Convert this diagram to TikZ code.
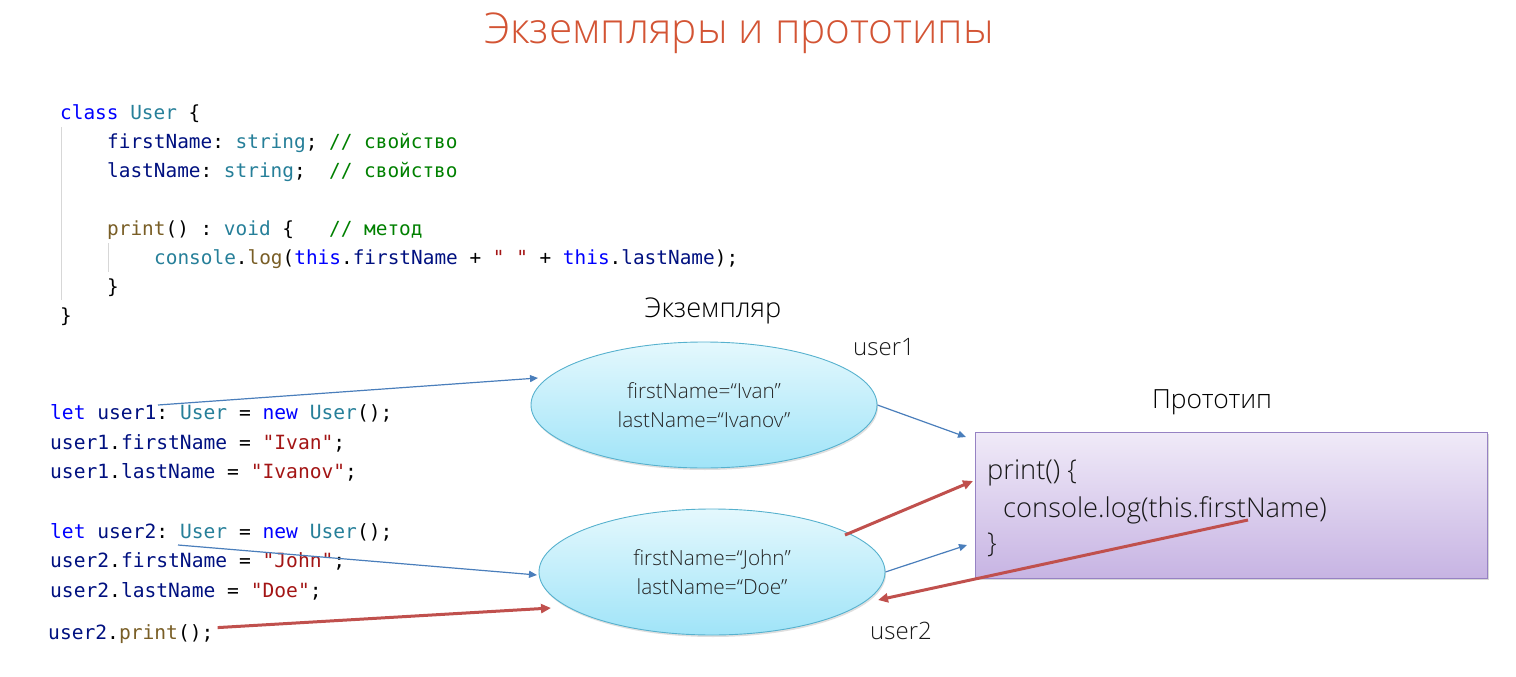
\documentclass[tikz,border=0pt]{standalone}
\usepackage{fontspec}
\setmainfont{Open Sans}
\newfontfamily\thinfont{Open Sans Light}
\newfontfamily\codefont{DejaVu Sans Mono}
\usetikzlibrary{arrows.meta,shadows,shapes.geometric}
\frenchspacing

% code colours
\definecolor{kwblue}{RGB}{0,0,255}
\definecolor{tyteal}{RGB}{38,127,153}
\definecolor{vrnavy}{RGB}{0,16,128}
\definecolor{strred}{RGB}{163,21,21}
\definecolor{cmgreen}{RGB}{0,128,0}
\definecolor{fnbrown}{RGB}{121,94,38}
% diagram colours
\definecolor{titleorange}{RGB}{211,84,52}
\definecolor{linkblue}{RGB}{74,126,187}
\definecolor{callred}{RGB}{192,80,77}
\definecolor{guidegray}{RGB}{215,215,215}
\definecolor{ellborder}{RGB}{86,177,206}
\definecolor{elltop}{RGB}{228,248,253}
\definecolor{ellbottom}{RGB}{160,228,248}
\definecolor{boxborder}{RGB}{150,130,195}
\definecolor{boxtop}{RGB}{240,234,248}
\definecolor{boxbottom}{RGB}{199,180,227}

\newcommand{\cKw}[1]{\textcolor{kwblue}{#1}}
\newcommand{\cTy}[1]{\textcolor{tyteal}{#1}}
\newcommand{\cVr}[1]{\textcolor{vrnavy}{#1}}
\newcommand{\cSt}[1]{\textcolor{strred}{#1}}
\newcommand{\cCm}[1]{\textcolor{cmgreen}{#1}}
\newcommand{\cFn}[1]{\textcolor{fnbrown}{#1}}

\tikzset{
  codetop/.style={anchor=base west, inner sep=0pt, font=\codefont\fontsize{19.4}{22}\selectfont},
  codebot/.style={anchor=base west, inner sep=0pt, font=\codefont\fontsize{19.6}{22}\selectfont},
  label/.style={inner sep=0pt, font=\thinfont\fontsize{24}{28}\selectfont\color{black!90}},
  instance/.style={ellipse, draw=ellborder, line width=0.9pt,
    top color=elltop, bottom color=ellbottom,
    minimum width=346pt, minimum height=126pt, inner sep=0pt,
    align=center, font=\thinfont\fontsize{20.8}{29}\selectfont\color{black!85},
    drop shadow={opacity=0.25, shadow xshift=1pt, shadow yshift=-2pt}},
  protobox/.style={rectangle, draw=boxborder, line width=0.9pt,
    top color=boxtop, bottom color=boxbottom,
    minimum width=512pt, minimum height=146pt, inner sep=0pt,
    drop shadow={opacity=0.3, shadow xshift=1.5pt, shadow yshift=-2pt}},
  protext/.style={anchor=base west, inner sep=0pt, font=\thinfont\fontsize{27.3}{30}\selectfont\color{black!90}},
  bluelink/.style={draw=linkblue, line width=1.2pt, -{Triangle[length=8pt,width=7pt]}},
  redcall/.style={draw=callred, line width=3pt, -{Triangle[length=10pt,width=9pt]}},
}

\begin{document}
\begin{tikzpicture}[x=1pt,y=-1pt]
\useasboundingbox (0,0) rectangle (1516,677);

% heading
\node[inner sep=0pt, text=titleorange, font=\thinfont\fontsize{42.4}{46}\selectfont] (title) at (739,33) {Экземпляры и прототипы};

% class declaration
\draw[guidegray, line width=1pt] (61,127) -- (61,300);
\draw[guidegray, line width=1pt] (108,243) -- (108,272);
\node[codetop] (c1) at (60,119) {\cKw{class} \cTy{User} \{};
\node[codetop] (c2) at (107,148) {\cVr{firstName}: \cTy{string}; \cCm{// свойство}};
\node[codetop] (c3) at (107,177) {\cVr{lastName}: \cTy{string};\ \ \cCm{// свойство}};
\node[codetop] (c4) at (107,235) {\cFn{print}() : \cTy{void} \{\ \ \ \cCm{// метод}};
\node[codetop] (c5) at (154,264) {\cTy{console}.\cFn{log}(\cKw{this}.\cVr{firstName} + \cSt{" "} + \cKw{this}.\cVr{lastName});};
\node[codetop] (c6) at (107,293) {\}};
\node[codetop] (c7) at (60,322) {\}};

% object creation code
\node[codebot] (l1) at (50,419) {\cKw{let} \cVr{user1}: \cTy{User} = \cKw{new} \cTy{User}();};
\node[codebot] (l2) at (50,449) {\cVr{user1}.\cVr{firstName} = \cSt{"Ivan"};};
\node[codebot] (l3) at (50,478) {\cVr{user1}.\cVr{lastName} = \cSt{"Ivanov"};};
\node[codebot] (l4) at (50,538) {\cKw{let} \cVr{user2}: \cTy{User} = \cKw{new} \cTy{User}();};
\node[codebot] (l5) at (50,567) {\cVr{user2}.\cVr{firstName} = \cSt{"John"};};
\node[codebot] (l6) at (50,597) {\cVr{user2}.\cVr{lastName} = \cSt{"Doe"};};
\node[codebot] (l7) at (48,639) {\cVr{user2}.\cFn{print}();};

% instances
\node[label, font=\thinfont\fontsize{27.2}{30}\selectfont] (instlabel) at (713,311) {Экземпляр};
\node[instance] (e1) at (704,405) {firstName=“Ivan”\\lastName=“Ivanov”};
\node[label] (u1) at (884,347) {user1};
\node[instance] (e2) at (712,572) {firstName=“John”\\lastName=“Doe”};
\node[label] (u2) at (901,631) {user2};

% prototype
\node[label, font=\thinfont\fontsize{26.4}{30}\selectfont] (protolabel) at (1212,402) {Прототип};
\node[protobox] (proto) at (1231,505) {};
\node[protext] (p1) at (987,479) {print() \{};
\node[protext] (p2) at (1003,517) {console.log(this.firstName)};
\node[protext] (p3) at (987,552) {\}};

% connector ends
\coordinate (s1) at (158,405);
\coordinate (s2) at (178,545);
\coordinate (t1) at (538,378);
\coordinate (t2) at (537,575);
\coordinate (pt1) at (966,437);
\coordinate (pt2) at (967,545);
\coordinate (callend) at (551,608);
\coordinate (r2s) at (845,535);
\coordinate (pin) at (973,481);
\coordinate (fromlog) at (1248,520);
\coordinate (backend) at (878,600);

% references
\draw[bluelink] (s1) -- (t1);
\draw[bluelink] (e1.east) -- (pt1);
\draw[bluelink] (s2) -- (t2);
\draw[bluelink] (e2.east) -- (pt2);

% method call
\draw[redcall] (l7.east) ++(4,-6) coordinate (callstart) -- (callend);
\draw[redcall] (r2s) -- (pin);
\draw[redcall] (fromlog) -- (backend);
\end{tikzpicture}
\end{document}
